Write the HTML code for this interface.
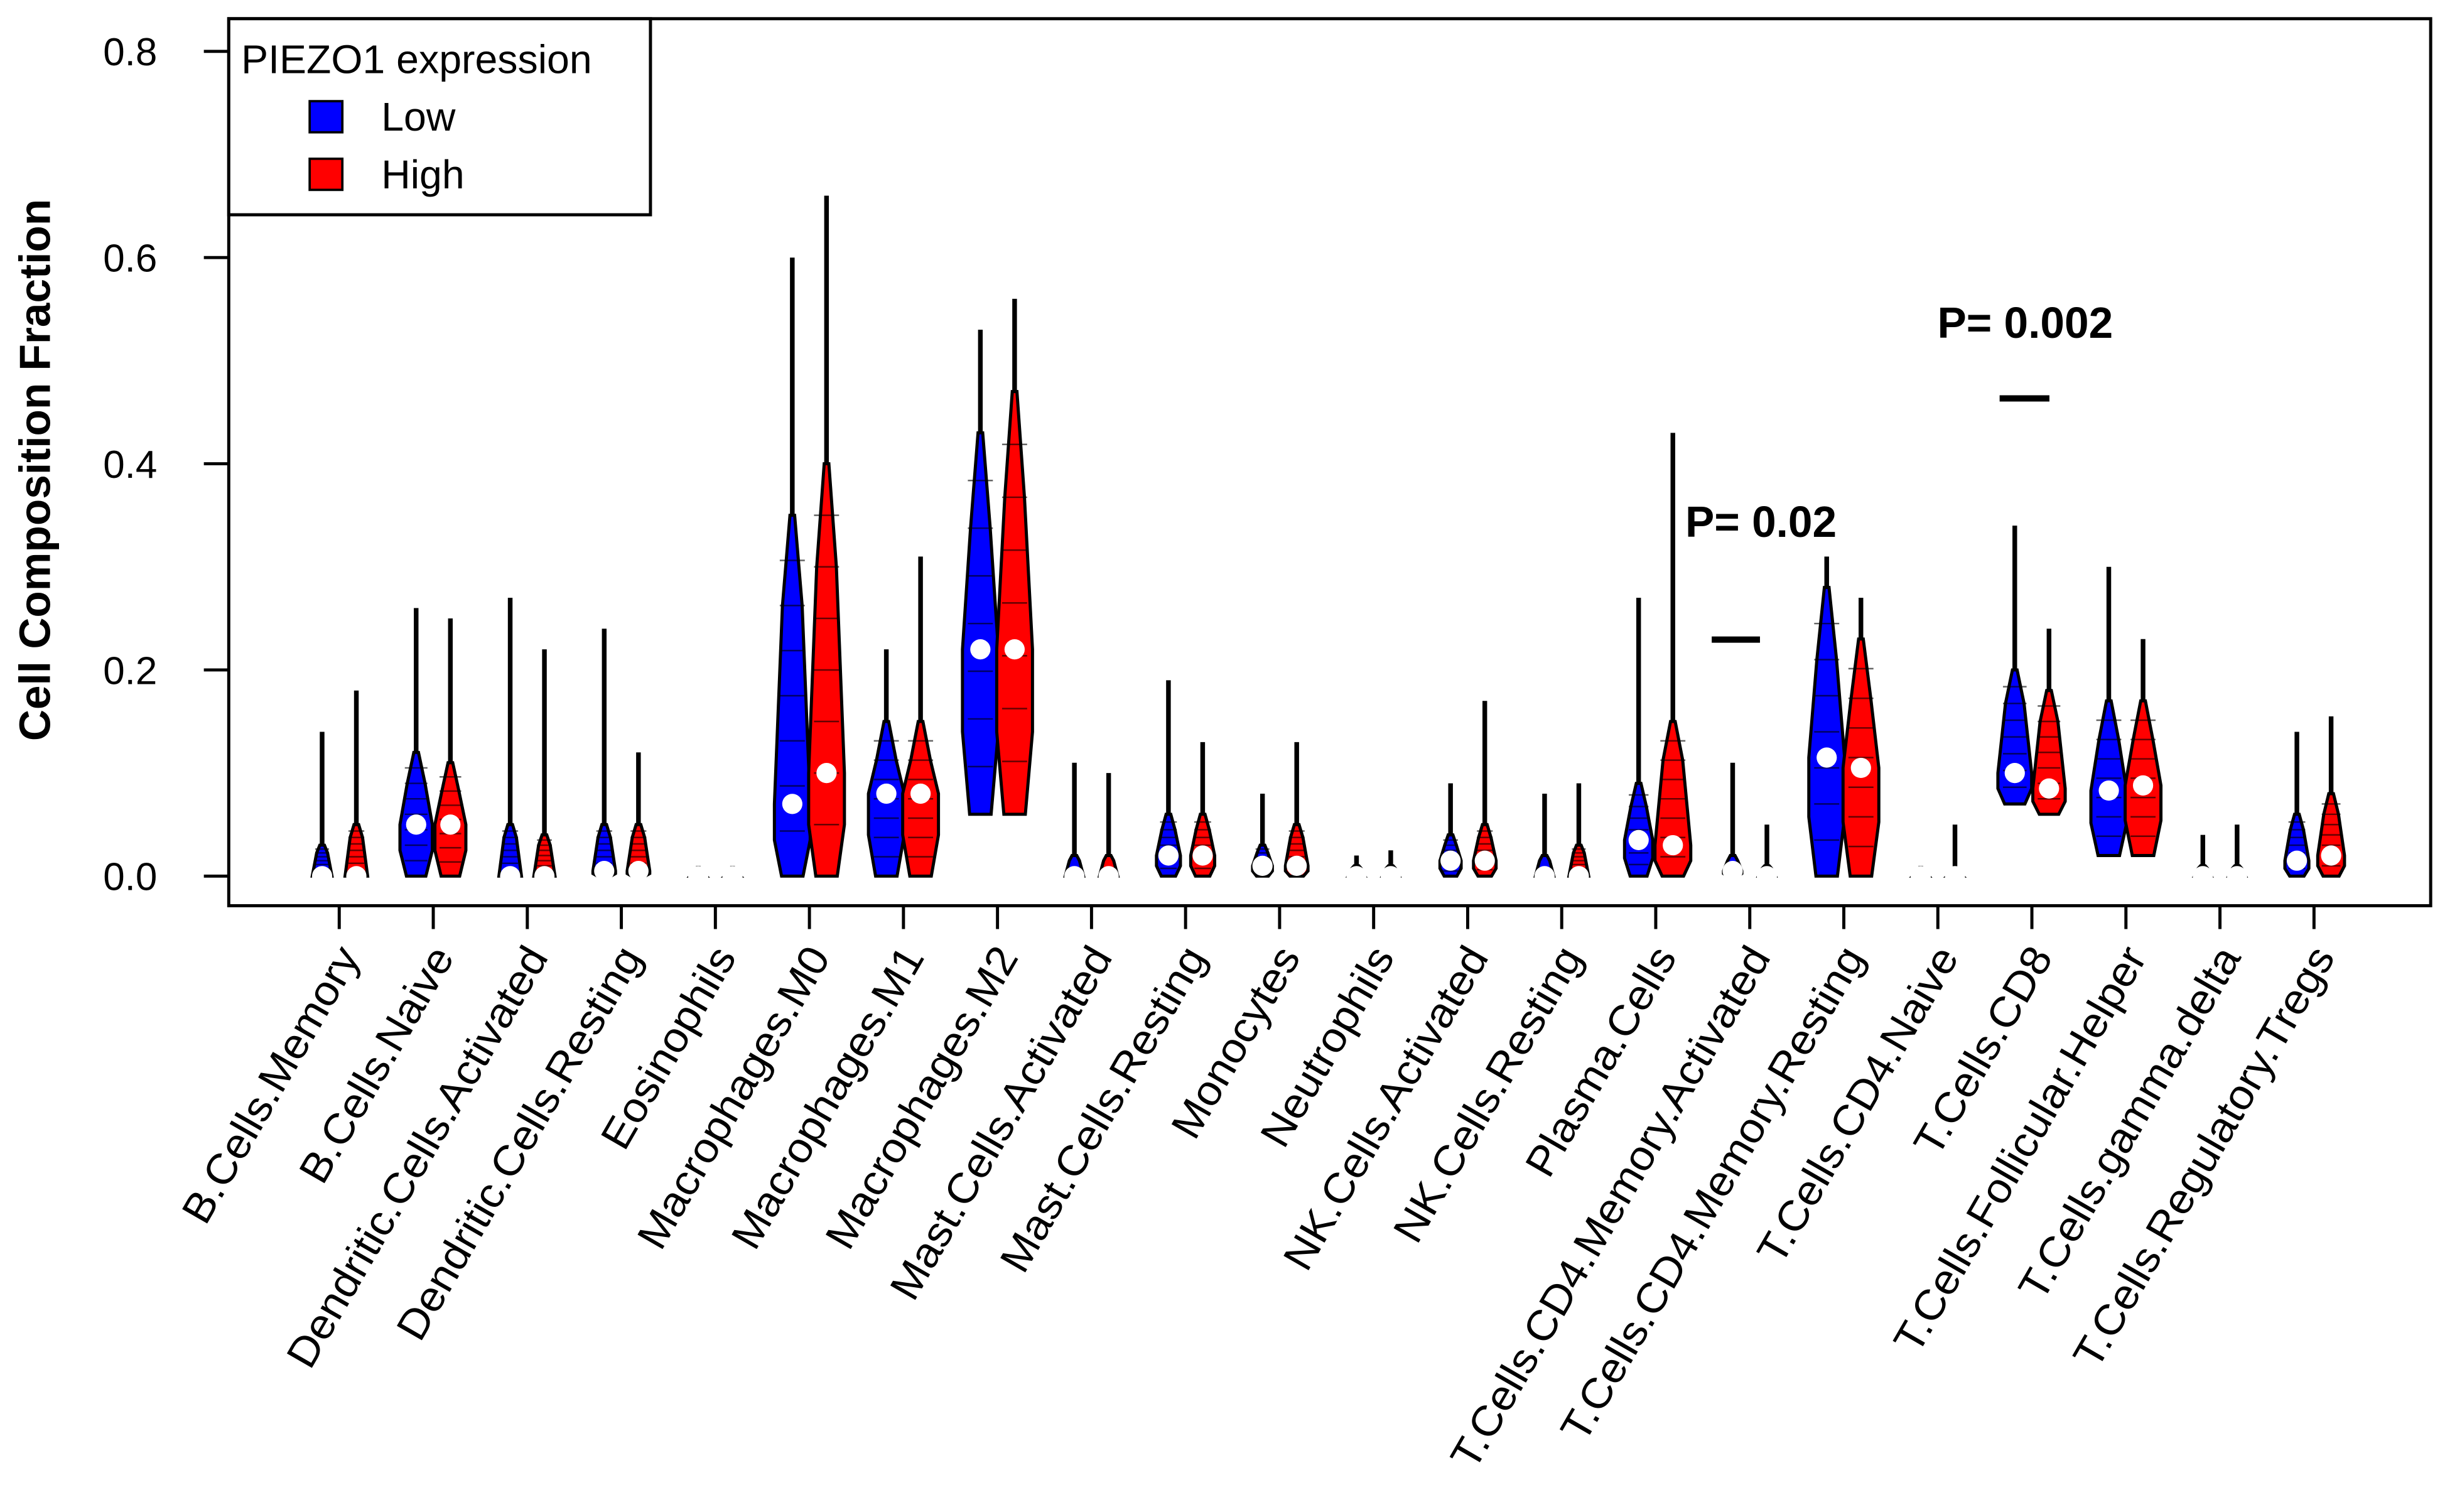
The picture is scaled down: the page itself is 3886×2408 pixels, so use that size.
<!DOCTYPE html>
<html><head><meta charset="utf-8"><style>html,body{margin:0;padding:0;background:#fff}svg{display:block}</style></head>
<body>
<svg id="chart" width="3886" height="2408" viewBox="0 0 1568 971.6" xmlns="http://www.w3.org/2000/svg" font-family="Liberation Sans, Arial, sans-serif">
<rect x="0" y="0" width="1568" height="972" fill="#fff"/>
<g id="marks"></g>
<rect x="147" y="12" width="1415" height="570" fill="none" stroke="#000" stroke-width="2"/>
<g id="yaxis"></g>
<g id="xaxis"></g>
<text transform="translate(32,302) rotate(-90)" text-anchor="middle" font-size="28" font-weight="bold">Cell Composition Fraction</text>
<g>
<rect x="147" y="12" width="271" height="126" fill="#fff" stroke="#000" stroke-width="2"/>
<text x="155" y="47" font-size="26">PIEZO1 expression</text>
<rect x="199" y="65" width="21" height="20" fill="#0000ff" stroke="#000" stroke-width="1.5"/>
<text x="245" y="84" font-size="26">Low</text>
<rect x="199" y="102" width="21" height="20" fill="#ff0000" stroke="#000" stroke-width="1.5"/>
<text x="245" y="121" font-size="26">High</text>
</g>
<text x="1083" y="345" font-size="28" font-weight="bold">P= 0.02</text>
<line x1="1100" y1="411" x2="1131" y2="411" stroke="#000" stroke-width="4"/>
<text x="1245" y="217" font-size="28" font-weight="bold">P= 0.002</text>
<line x1="1285" y1="256" x2="1317" y2="256" stroke="#000" stroke-width="4"/>
</svg>
<script>
const categories=["B.Cells.Memory","B.Cells.Naive","Dendritic.Cells.Activated","Dendritic.Cells.Resting","Eosinophils","Macrophages.M0","Macrophages.M1","Macrophages.M2","Mast.Cells.Activated","Mast.Cells.Resting","Monocytes","Neutrophils","NK.Cells.Activated","NK.Cells.Resting","Plasma.Cells","T.Cells.CD4.Memory.Activated","T.Cells.CD4.Memory.Resting","T.Cells.CD4.Naive","T.Cells.CD8","T.Cells.Follicular.Helper","T.Cells.gamma.delta","T.Cells.Regulatory.Tregs"];
const lowMedian=[0,0.05,0,0.005,0,0.07,0.08,0.22,0,0.02,0.01,0,0.015,0,0.035,0.005,0.115,0,0.1,0.083,0,0.015];
const lowMax=[0.14,0.26,0.27,0.24,0.01,0.6,0.22,0.53,0.11,0.19,0.08,0.02,0.09,0.08,0.27,0.11,0.31,0.01,0.34,0.3,0.04,0.14];
const lowBodyTop=[0.03,0.12,0.05,0.05,0.005,0.35,0.15,0.43,0.02,0.06,0.03,0.01,0.04,0.02,0.09,0.02,0.28,0.005,0.2,0.17,0.01,0.06];
const lowMin=[0,0,0,0,0,0,0,0.06,0,0,0,0,0,0,0,0,0,0,0.07,0.02,0,0];
const highMedian=[0,0.05,0,0.005,0,0.1,0.08,0.22,0,0.02,0.01,0,0.015,0,0.03,0,0.105,0,0.085,0.088,0,0.02];
const highMax=[0.18,0.25,0.22,0.12,0.01,0.66,0.31,0.56,0.1,0.13,0.13,0.025,0.17,0.09,0.43,0.05,0.27,0.05,0.24,0.23,0.05,0.155];
const highBodyTop=[0.05,0.11,0.04,0.05,0.005,0.4,0.15,0.47,0.02,0.06,0.05,0.01,0.05,0.03,0.15,0.01,0.23,0.005,0.18,0.17,0.01,0.08];
const highMin=[0,0,0,0,0,0,0,0.06,0,0,0,0,0,0,0,0,0,0,0.06,0.02,0,0];
const yTicks=[0,0.2,0.4,0.6,0.8];
const yTickLabels=["0.0","0.2","0.4","0.6","0.8"];

const NS="http://www.w3.org/2000/svg";
const Y0=563,YPER=662.5;
function yScale(v){return Y0-v*YPER;}
function xScale(i){return 218+i*60.43;}
function mk(t,a,p){const e=document.createElementNS(NS,t);for(const k in a)e.setAttribute(k,a[k]);p.appendChild(e);return e;}
const marks=document.getElementById('marks'),ya=document.getElementById('yaxis'),xa=document.getElementById('xaxis');
yTicks.forEach((v,i)=>{
  const l=mk('line',{x1:131,x2:147,y1:yScale(v),y2:yScale(v),stroke:'#000','stroke-width':2},ya);
  
  
  const t=mk('text',{x:101,y:yScale(v)+9,'text-anchor':'end','font-size':25},ya);
  
  
  t.textContent=yTickLabels[i];
});
function violin(cx,med,mx,top,mn,color,name){
  const g=mk('g',{},marks);
  
  
  mk('line',{x1:cx,x2:cx,y1:yScale(mn),y2:yScale(mx),stroke:'#000','stroke-width':3},g);
  const span=Math.max(top-mn,0.005);
  const w=Math.min(11.5,5+span*45);
  const yb=yScale(mn),yt=yScale(top),ym=yScale(Math.min(Math.max(med,mn),top));
  const yq=yScale(mn+(top-mn)*0.75);
  const d=`M${cx-w*0.6},${yb} L${cx-w},${(yb+ym)/2} L${cx-w},${ym} L${cx-w*0.55},${yq} L${cx-1.5},${yt} L${cx+1.5},${yt} L${cx+w*0.55},${yq} L${cx+w},${ym} L${cx+w},${(yb+ym)/2} L${cx+w*0.6},${yb} Z`;
  mk('path',{d:d,fill:color,stroke:'#000','stroke-width':2},g);
  if(span>0.02) for(let k=1;k<8;k++){const yy=yb+(yt-yb)*k/8;mk('line',{x1:cx-w*0.7,x2:cx+w*0.7,y1:yy,y2:yy,stroke:'#000','stroke-width':1,opacity:0.6},g);}
  const c=mk('circle',{cx:cx,cy:yScale(med),r:6.5,fill:'#fff'},g);
  
  
}
categories.forEach((c,i)=>{
  const cx=xScale(i);
  violin(cx-11,lowMedian[i],lowMax[i],lowBodyTop[i],lowMin[i],'#0000ff','violin-low');
  violin(cx+11,highMedian[i],highMax[i],highBodyTop[i],highMin[i],'#ff0000','violin-high');
  const tk=mk('line',{x1:cx,x2:cx,y1:582,y2:597,stroke:'#000','stroke-width':2},xa);
  
  
  const t=mk('text',{transform:`translate(${cx+14},${615}) rotate(-60) scale(1.05,1)`,'text-anchor':'end','font-size':27},xa);
  
  
  t.textContent=c;
});
</script>
</body></html>
